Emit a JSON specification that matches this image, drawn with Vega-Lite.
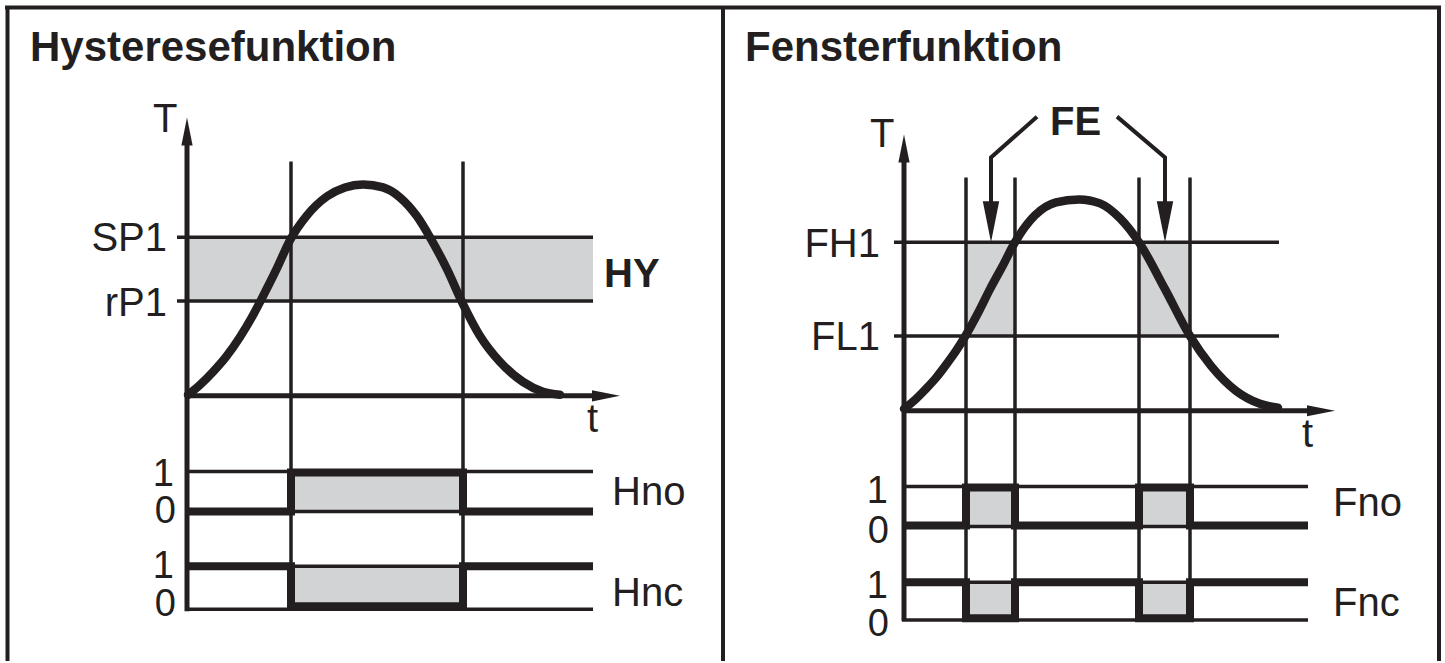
{
  "$schema": "https://vega.github.io/schema/vega-lite/v6.json",
  "width": 1445,
  "height": 663,
  "autosize": {"type": "fit", "contains": "padding"},
  "padding": 0,
  "background": "white",
  "config": {"view": {"stroke": null}},
  "datasets": {
    "bands": [
      {"x": 187, "y": 238, "x2": 593, "y2": 302},
      {"x": 291, "y": 474, "x2": 463, "y2": 513},
      {"x": 291, "y": 568, "x2": 463, "y2": 608},
      {"x": 966, "y": 243, "x2": 1015, "y2": 337},
      {"x": 1139, "y": 243, "x2": 1190, "y2": 337},
      {"x": 966, "y": 489, "x2": 1015, "y2": 527},
      {"x": 1139, "y": 489, "x2": 1190, "y2": 527},
      {"x": 966, "y": 584, "x2": 1015, "y2": 620},
      {"x": 1139, "y": 584, "x2": 1190, "y2": 620}
    ],
    "rules": [
      {"kind": "frame", "x": 5, "y": 7.5, "x2": 1441, "y2": 7.5},
      {"kind": "frame", "x": 7.5, "y": 7.5, "x2": 7.5, "y2": 663},
      {"kind": "frame", "x": 1439, "y": 7.5, "x2": 1439, "y2": 663},
      {"kind": "frame", "x": 723, "y": 7.5, "x2": 723, "y2": 663},
      {"kind": "axis", "x": 187, "y": 140, "x2": 187, "y2": 613},
      {"kind": "axis", "x": 187, "y": 397, "x2": 600, "y2": 397},
      {"kind": "axis", "x": 904, "y": 157, "x2": 904, "y2": 623},
      {"kind": "axis", "x": 904, "y": 412, "x2": 1315, "y2": 412},
      {"kind": "thin", "x": 177, "y": 238, "x2": 593, "y2": 238},
      {"kind": "thin", "x": 177, "y": 302, "x2": 593, "y2": 302},
      {"kind": "thin", "x": 291, "y": 162, "x2": 291, "y2": 612},
      {"kind": "thin", "x": 463, "y": 162, "x2": 463, "y2": 612},
      {"kind": "thin", "x": 187, "y": 473, "x2": 593, "y2": 473},
      {"kind": "thin", "x": 187, "y": 513, "x2": 593, "y2": 513},
      {"kind": "thin", "x": 187, "y": 568, "x2": 593, "y2": 568},
      {"kind": "thin", "x": 187, "y": 611, "x2": 593, "y2": 611},
      {"kind": "thin", "x": 894, "y": 243, "x2": 1279, "y2": 243},
      {"kind": "thin", "x": 894, "y": 337, "x2": 1279, "y2": 337},
      {"kind": "thin", "x": 966, "y": 178, "x2": 966, "y2": 623},
      {"kind": "thin", "x": 1015, "y": 178, "x2": 1015, "y2": 623},
      {"kind": "thin", "x": 1139, "y": 178, "x2": 1139, "y2": 623},
      {"kind": "thin", "x": 1190, "y": 178, "x2": 1190, "y2": 623},
      {"kind": "thin", "x": 904, "y": 488, "x2": 1308, "y2": 488},
      {"kind": "thin", "x": 904, "y": 528, "x2": 1308, "y2": 528},
      {"kind": "thin", "x": 904, "y": 584, "x2": 1308, "y2": 584},
      {"kind": "thin", "x": 902, "y": 622, "x2": 1308, "y2": 622}
    ],
    "leaders": [
      {"side": "L", "i": 0, "x": 1037, "y": 117},
      {"side": "L", "i": 1, "x": 991, "y": 158},
      {"side": "L", "i": 2, "x": 991, "y": 210},
      {"side": "R", "i": 0, "x": 1117, "y": 117},
      {"side": "R", "i": 1, "x": 1165, "y": 158},
      {"side": "R", "i": 2, "x": 1165, "y": 210}
    ],
    "signals": [
      {"sig": "Hno", "i": 0, "x": 187, "y": 513},
      {"sig": "Hno", "i": 1, "x": 291, "y": 513},
      {"sig": "Hno", "i": 2, "x": 291, "y": 474},
      {"sig": "Hno", "i": 3, "x": 463, "y": 474},
      {"sig": "Hno", "i": 4, "x": 463, "y": 513},
      {"sig": "Hno", "i": 5, "x": 593, "y": 513},
      {"sig": "Hnc", "i": 0, "x": 187, "y": 568},
      {"sig": "Hnc", "i": 1, "x": 291, "y": 568},
      {"sig": "Hnc", "i": 2, "x": 291, "y": 608},
      {"sig": "Hnc", "i": 3, "x": 463, "y": 608},
      {"sig": "Hnc", "i": 4, "x": 463, "y": 568},
      {"sig": "Hnc", "i": 5, "x": 593, "y": 568},
      {"sig": "Fno", "i": 0, "x": 904, "y": 527},
      {"sig": "Fno", "i": 1, "x": 966, "y": 527},
      {"sig": "Fno", "i": 2, "x": 966, "y": 489},
      {"sig": "Fno", "i": 3, "x": 1015, "y": 489},
      {"sig": "Fno", "i": 4, "x": 1015, "y": 527},
      {"sig": "Fno", "i": 5, "x": 1139, "y": 527},
      {"sig": "Fno", "i": 6, "x": 1139, "y": 489},
      {"sig": "Fno", "i": 7, "x": 1190, "y": 489},
      {"sig": "Fno", "i": 8, "x": 1190, "y": 527},
      {"sig": "Fno", "i": 9, "x": 1308, "y": 527},
      {"sig": "Fnc", "i": 0, "x": 904, "y": 584},
      {"sig": "Fnc", "i": 1, "x": 966, "y": 584},
      {"sig": "Fnc", "i": 2, "x": 966, "y": 620},
      {"sig": "Fnc", "i": 3, "x": 1015, "y": 620},
      {"sig": "Fnc", "i": 4, "x": 1015, "y": 584},
      {"sig": "Fnc", "i": 5, "x": 1139, "y": 584},
      {"sig": "Fnc", "i": 6, "x": 1139, "y": 620},
      {"sig": "Fnc", "i": 7, "x": 1190, "y": 620},
      {"sig": "Fnc", "i": 8, "x": 1190, "y": 584},
      {"sig": "Fnc", "i": 9, "x": 1308, "y": 584}
    ],
    "curves": [
      {"panel": "H", "x": 188, "y": 396},
      {"panel": "H", "x": 200, "y": 386},
      {"panel": "H", "x": 213, "y": 373},
      {"panel": "H", "x": 226, "y": 358},
      {"panel": "H", "x": 240, "y": 338},
      {"panel": "H", "x": 252, "y": 318},
      {"panel": "H", "x": 262, "y": 299},
      {"panel": "H", "x": 277, "y": 269},
      {"panel": "H", "x": 290, "y": 241},
      {"panel": "H", "x": 307, "y": 216},
      {"panel": "H", "x": 327, "y": 197},
      {"panel": "H", "x": 345, "y": 188},
      {"panel": "H", "x": 363, "y": 185},
      {"panel": "H", "x": 383, "y": 188},
      {"panel": "H", "x": 400, "y": 198},
      {"panel": "H", "x": 417, "y": 217},
      {"panel": "H", "x": 430, "y": 238},
      {"panel": "H", "x": 447, "y": 270},
      {"panel": "H", "x": 462, "y": 303},
      {"panel": "H", "x": 480, "y": 337},
      {"panel": "H", "x": 500, "y": 363},
      {"panel": "H", "x": 523, "y": 383},
      {"panel": "H", "x": 543, "y": 393},
      {"panel": "H", "x": 560, "y": 396},
      {"panel": "F", "x": 904, "y": 410},
      {"panel": "F", "x": 915, "y": 401},
      {"panel": "F", "x": 925, "y": 391},
      {"panel": "F", "x": 936, "y": 379},
      {"panel": "F", "x": 946, "y": 366},
      {"panel": "F", "x": 956, "y": 352},
      {"panel": "F", "x": 966, "y": 336},
      {"panel": "F", "x": 978, "y": 314},
      {"panel": "F", "x": 990, "y": 290},
      {"panel": "F", "x": 1003, "y": 266},
      {"panel": "F", "x": 1015, "y": 243},
      {"panel": "F", "x": 1035, "y": 216},
      {"panel": "F", "x": 1056, "y": 203},
      {"panel": "F", "x": 1079, "y": 200},
      {"panel": "F", "x": 1100, "y": 204},
      {"panel": "F", "x": 1120, "y": 219},
      {"panel": "F", "x": 1139, "y": 243},
      {"panel": "F", "x": 1165, "y": 290},
      {"panel": "F", "x": 1190, "y": 337},
      {"panel": "F", "x": 1211, "y": 367},
      {"panel": "F", "x": 1236, "y": 392},
      {"panel": "F", "x": 1260, "y": 405},
      {"panel": "F", "x": 1278, "y": 409}
    ],
    "arrows": [
      {"kind": "axis", "dir": "up", "x": 187, "y": 132},
      {"kind": "axis", "dir": "right", "x": 606, "y": 397},
      {"kind": "axis", "dir": "up", "x": 904, "y": 149},
      {"kind": "axis", "dir": "right", "x": 1321, "y": 412},
      {"kind": "leader", "dir": "down", "x": 991, "y": 222.5},
      {"kind": "leader", "dir": "down", "x": 1165, "y": 222.5}
    ],
    "texts": [
      {"kind": "title", "label": "Hysteresefunktion", "x": 30, "y": 61},
      {"kind": "title", "label": "Fensterfunktion", "x": 745, "y": 61},
      {"kind": "bold", "label": "HY", "x": 604, "y": 288},
      {"kind": "bold", "label": "FE", "x": 1050, "y": 135},
      {"kind": "level", "label": "SP1", "x": 167, "y": 252},
      {"kind": "level", "label": "rP1", "x": 167, "y": 317},
      {"kind": "level", "label": "FH1", "x": 880, "y": 258},
      {"kind": "level", "label": "FL1", "x": 880, "y": 351},
      {"kind": "digit", "label": "1", "x": 174, "y": 487},
      {"kind": "digit", "label": "0", "x": 176, "y": 525},
      {"kind": "digit", "label": "1", "x": 174, "y": 580},
      {"kind": "digit", "label": "0", "x": 176, "y": 618},
      {"kind": "digit", "label": "1", "x": 888, "y": 505},
      {"kind": "digit", "label": "0", "x": 889, "y": 545},
      {"kind": "digit", "label": "1", "x": 888, "y": 600},
      {"kind": "digit", "label": "0", "x": 889, "y": 638},
      {"kind": "name", "label": "Hno", "x": 612, "y": 507},
      {"kind": "name", "label": "Hnc", "x": 612, "y": 608},
      {"kind": "name", "label": "Fno", "x": 1333, "y": 518},
      {"kind": "name", "label": "Fnc", "x": 1333, "y": 618},
      {"kind": "name", "label": "T", "x": 153, "y": 132},
      {"kind": "name", "label": "T", "x": 870, "y": 147},
      {"kind": "name", "label": "t", "x": 587, "y": 433},
      {"kind": "name", "label": "t", "x": 1302, "y": 448}
    ]
  },
  "encoding": {
    "x": {"field": "x", "type": "quantitative", "scale": {"domain": [0, 1445], "nice": false, "zero": false}, "axis": null},
    "y": {"field": "y", "type": "quantitative", "scale": {"domain": [0, 663], "nice": false, "zero": false, "reverse": true}, "axis": null}
  },
  "layer": [
    {
      "data": {"name": "bands"},
      "mark": {"type": "rect", "color": "#d1d3d4"},
      "encoding": {"x2": {"field": "x2"}, "y2": {"field": "y2"}}
    },
    {
      "data": {"name": "rules"},
      "transform": [{"filter": "datum.kind === 'frame'"}],
      "mark": {"type": "rule", "color": "#231f20", "strokeWidth": 4},
      "encoding": {"x2": {"field": "x2"}, "y2": {"field": "y2"}}
    },
    {
      "data": {"name": "rules"},
      "transform": [{"filter": "datum.kind === 'axis'"}],
      "mark": {"type": "rule", "color": "#231f20", "strokeWidth": 5},
      "encoding": {"x2": {"field": "x2"}, "y2": {"field": "y2"}}
    },
    {
      "data": {"name": "rules"},
      "transform": [{"filter": "datum.kind === 'thin'"}],
      "mark": {"type": "rule", "color": "#231f20", "strokeWidth": 3.5},
      "encoding": {"x2": {"field": "x2"}, "y2": {"field": "y2"}}
    },
    {
      "data": {"name": "leaders"},
      "mark": {"type": "line", "color": "#231f20", "strokeWidth": 4, "strokeJoin": "miter"},
      "encoding": {"detail": {"field": "side"}, "order": {"field": "i", "type": "quantitative"}}
    },
    {
      "data": {"name": "signals"},
      "mark": {"type": "line", "color": "#231f20", "strokeWidth": 8, "strokeJoin": "miter", "strokeCap": "butt"},
      "encoding": {"detail": {"field": "sig"}, "order": {"field": "i", "type": "quantitative"}}
    },
    {
      "data": {"name": "curves"},
      "mark": {"type": "line", "color": "#231f20", "strokeWidth": 8.5, "interpolate": "monotone", "strokeCap": "round"},
      "encoding": {"detail": {"field": "panel"}}
    },
    {
      "data": {"name": "arrows"},
      "transform": [{"filter": "datum.kind === 'axis'"}],
      "mark": {"type": "point", "filled": true, "color": "#231f20", "opacity": 1, "size": 784, "strokeWidth": 0},
      "encoding": {"shape": {"field": "dir", "type": "nominal", "scale": {"domain": ["up", "right", "down"], "range": ["M0,-1L0.4,1L-0.4,1Z", "M1,0L-1,-0.4L-1,0.4Z", "M0,1L0.4,-1L-0.4,-1Z"]}, "legend": null}}
    },
    {
      "data": {"name": "arrows"},
      "transform": [{"filter": "datum.kind === 'leader'"}],
      "mark": {"type": "point", "filled": true, "color": "#231f20", "opacity": 1, "size": 1681, "strokeWidth": 0},
      "encoding": {"shape": {"field": "dir", "type": "nominal", "scale": {"domain": ["up", "right", "down"], "range": ["M0,-1L0.4,1L-0.4,1Z", "M1,0L-1,-0.4L-1,0.4Z", "M0,1L0.4,-1L-0.4,-1Z"]}, "legend": null}}
    },
    {
      "data": {"name": "texts"},
      "transform": [{"filter": "datum.kind === 'title'"}],
      "mark": {"type": "text", "font": "Liberation Sans", "fontSize": 42, "fontWeight": "bold", "align": "left", "baseline": "alphabetic", "color": "#231f20"},
      "encoding": {"text": {"field": "label"}}
    },
    {
      "data": {"name": "texts"},
      "transform": [{"filter": "datum.kind === 'bold'"}],
      "mark": {"type": "text", "font": "Liberation Sans", "fontSize": 40, "fontWeight": "bold", "align": "left", "baseline": "alphabetic", "color": "#231f20"},
      "encoding": {"text": {"field": "label"}}
    },
    {
      "data": {"name": "texts"},
      "transform": [{"filter": "datum.kind === 'level'"}],
      "mark": {"type": "text", "font": "Liberation Sans", "fontSize": 40, "align": "right", "baseline": "alphabetic", "color": "#231f20"},
      "encoding": {"text": {"field": "label"}}
    },
    {
      "data": {"name": "texts"},
      "transform": [{"filter": "datum.kind === 'digit'"}],
      "mark": {"type": "text", "font": "Liberation Sans", "fontSize": 38, "align": "right", "baseline": "alphabetic", "color": "#231f20"},
      "encoding": {"text": {"field": "label"}}
    },
    {
      "data": {"name": "texts"},
      "transform": [{"filter": "datum.kind === 'name'"}],
      "mark": {"type": "text", "font": "Liberation Sans", "fontSize": 40, "align": "left", "baseline": "alphabetic", "color": "#231f20"},
      "encoding": {"text": {"field": "label"}}
    }
  ]
}
